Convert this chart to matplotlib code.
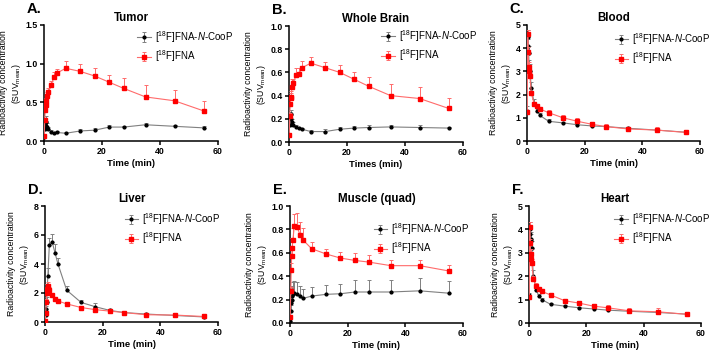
import numpy as np
import matplotlib
matplotlib.use('Agg')
from matplotlib import pyplot as plt

plt.rcParams['font.family'] = ['Liberation Sans', 'DejaVu Sans']
plt.rcParams['mathtext.fontset'] = 'custom'
plt.rcParams['mathtext.rm'] = 'Liberation Sans'
plt.rcParams['mathtext.it'] = 'Liberation Sans:italic'

# frame mid-times (min)
t = [0.08, 0.25, 0.42, 0.58, 0.75, 1, 1.5, 2.5, 3.5, 4.5, 7.5, 12.5, 17.5, 22.5, 27.5, 35, 45, 55]

# Tumor
tum_cp = [0.05, 0.15, 0.22, 0.25, 0.2, 0.18, 0.15, 0.12, 0.10, 0.11, 0.10, 0.13, 0.14, 0.18, 0.18, 0.21, 0.19, 0.17]
tum_cp_sd = [0.02, 0.04, 0.05, 0.07, 0.06, 0.05, 0.03, 0.02, 0.02, 0.02, 0.02, 0.03, 0.03, 0.03, 0.02, 0.02, 0.02, 0.02]
tum_fna = [0.07, 0.27, 0.40, 0.46, 0.52, 0.58, 0.63, 0.73, 0.83, 0.88, 0.94, 0.90, 0.84, 0.76, 0.68, 0.57, 0.52, 0.39]
tum_fna_sd = [0.02, 0.03, 0.04, 0.04, 0.04, 0.05, 0.05, 0.05, 0.06, 0.05, 0.09, 0.09, 0.10, 0.09, 0.14, 0.15, 0.14, 0.13]

# Whole brain
brain_cp = [0.20, 0.15, 0.22, 0.24, 0.20, 0.17, 0.15, 0.13, 0.12, 0.11, 0.09, 0.09, 0.11, 0.12, 0.125, 0.13, 0.125, 0.12]
brain_cp_sd = [0.03, 0.04, 0.04, 0.04, 0.03, 0.03, 0.02, 0.02, 0.01, 0.01, 0.01, 0.02, 0.02, 0.02, 0.02, 0.02, 0.02, 0.01]
brain_fna = [0.06, 0.22, 0.33, 0.38, 0.39, 0.47, 0.51, 0.58, 0.59, 0.64, 0.68, 0.64, 0.60, 0.54, 0.48, 0.40, 0.375, 0.29]
brain_fna_sd = [0.02, 0.03, 0.04, 0.04, 0.05, 0.07, 0.03, 0.06, 0.05, 0.06, 0.05, 0.05, 0.06, 0.06, 0.08, 0.10, 0.10, 0.09]

# Blood
blood_cp = [1.3, 4.5, 4.1, 3.8, 3.2, 3.0, 2.3, 1.6, 1.3, 1.1, 0.85, 0.78, 0.70, 0.65, 0.62, 0.55, 0.47, 0.38]
blood_cp_sd = [0.2, 0.3, 0.3, 0.3, 0.3, 0.3, 0.25, 0.2, 0.15, 0.1, 0.1, 0.06, 0.06, 0.06, 0.06, 0.06, 0.06, 0.05]
blood_fna = [1.25, 4.6, 3.85, 3.2, 3.0, 2.8, 2.05, 1.6, 1.5, 1.38, 1.22, 1.0, 0.85, 0.72, 0.62, 0.52, 0.47, 0.37]
blood_fna_sd = [0.1, 0.2, 0.2, 0.2, 0.2, 0.15, 0.1, 0.1, 0.1, 0.1, 0.1, 0.12, 0.14, 0.1, 0.1, 0.1, 0.12, 0.1]

# Liver
liver_cp = [0.1, 0.5, 0.9, 1.4, 2.2, 3.2, 5.3, 5.5, 4.75, 4.0, 2.2, 1.35, 1.05, 0.8, 0.65, 0.55, 0.45, 0.35]
liver_cp_sd = [0.05, 0.1, 0.2, 0.3, 0.4, 0.5, 0.5, 0.6, 0.6, 0.4, 0.25, 0.15, 0.25, 0.1, 0.1, 0.05, 0.1, 0.05]
liver_fna = [0.1, 0.6, 1.4, 2.0, 2.3, 2.45, 2.2, 1.85, 1.6, 1.45, 1.25, 1.0, 0.85, 0.75, 0.65, 0.5, 0.48, 0.38]
liver_fna_sd = [0.05, 0.1, 0.2, 0.3, 0.3, 0.3, 0.2, 0.15, 0.1, 0.1, 0.08, 0.08, 0.08, 0.08, 0.06, 0.06, 0.06, 0.06]

# Muscle (quad)
musc_cp = [0.02, 0.1, 0.17, 0.2, 0.23, 0.25, 0.255, 0.25, 0.23, 0.21, 0.23, 0.245, 0.25, 0.265, 0.265, 0.265, 0.275, 0.255]
musc_cp_sd = [0.02, 0.05, 0.07, 0.08, 0.09, 0.1, 0.1, 0.1, 0.09, 0.08, 0.08, 0.08, 0.08, 0.1, 0.1, 0.1, 0.11, 0.1]
musc_fna = [0.05, 0.27, 0.45, 0.57, 0.64, 0.71, 0.83, 0.82, 0.75, 0.71, 0.635, 0.59, 0.555, 0.535, 0.52, 0.49, 0.49, 0.445]
musc_fna_sd = [0.02, 0.04, 0.06, 0.08, 0.09, 0.1, 0.1, 0.12, 0.11, 0.1, 0.06, 0.04, 0.05, 0.06, 0.06, 0.05, 0.05, 0.05]

# Heart
heart_cp = [1.2, 4.0, 3.8, 3.6, 3.5, 3.2, 2.0, 1.4, 1.15, 1.0, 0.8, 0.72, 0.65, 0.6, 0.55, 0.5, 0.45, 0.38]
heart_cp_sd = [0.1, 0.3, 0.3, 0.3, 0.3, 0.3, 0.25, 0.15, 0.1, 0.08, 0.05, 0.05, 0.05, 0.05, 0.05, 0.05, 0.05, 0.05]
heart_fna = [1.1, 4.1, 3.4, 2.95, 2.75, 2.55, 1.9, 1.6, 1.45, 1.35, 1.2, 0.95, 0.85, 0.72, 0.65, 0.52, 0.48, 0.37]
heart_fna_sd = [0.1, 0.2, 0.2, 0.2, 0.2, 0.2, 0.1, 0.1, 0.1, 0.1, 0.1, 0.08, 0.1, 0.1, 0.1, 0.1, 0.15, 0.1]

panels = [
    ('A.', 'Tumor', 'Time (min)', 1.5, [0, 0.5, 1.0, 1.5], tum_cp, tum_cp_sd, tum_fna, tum_fna_sd),
    ('B.', 'Whole Brain', 'Times (min)', 1.0, [0, 0.2, 0.4, 0.6, 0.8, 1.0], brain_cp, brain_cp_sd, brain_fna, brain_fna_sd),
    ('C.', 'Blood', 'Time (min)', 5, [0, 1, 2, 3, 4, 5], blood_cp, blood_cp_sd, blood_fna, blood_fna_sd),
    ('D.', 'Liver', 'Time (min)', 8, [0, 2, 4, 6, 8], liver_cp, liver_cp_sd, liver_fna, liver_fna_sd),
    ('E.', 'Muscle (quad)', 'Time (min)', 1.0, [0, 0.2, 0.4, 0.6, 0.8, 1.0], musc_cp, musc_cp_sd, musc_fna, musc_fna_sd),
    ('F.', 'Heart', 'Time (min)', 5, [0, 1, 2, 3, 4, 5], heart_cp, heart_cp_sd, heart_fna, heart_fna_sd),
]

# axes boxes in pixels: left, top, right, bottom
boxes = [(44, 25, 218, 141), (289, 26, 463, 142), (527, 25, 700, 141),
         (45, 206, 218, 322), (290, 206, 463, 323), (529, 206, 701, 323)]
# legend anchors (axes fraction)
leg_pos = [(0.537, 0.966), (0.53, 0.983), (0.506, 0.948),
           (0.46, 0.957), (0.483, 0.872), (0.497, 0.957)]

W, H = 709, 354
fig = plt.figure(figsize=(W / 100, H / 100), dpi=100)

lab_cp = '[$^{18}$F]FNA-$\\mathit{N}$-CooP'
lab_fna = '[$^{18}$F]FNA'

for (letter, title, xlab, ymax, yt, cp, cps, fna, fnas), (l, tp, r, b), lp in zip(panels, boxes, leg_pos):
    ax = fig.add_axes([l / W, 1 - b / H, (r - l) / W, (b - tp) / H])
    ax.errorbar(t, cp, yerr=[np.zeros(len(cps)), cps], color='#808080', lw=0.8,
                ecolor='#808080', elinewidth=0.7, capsize=1.5, capthick=0.7,
                marker='o', ms=2, mfc='black', mec='black', label=lab_cp, zorder=3)
    ax.errorbar(t, fna, yerr=[np.zeros(len(fnas)), fnas], color='#ff6b6b', lw=0.8,
                ecolor='#ff6b6b', elinewidth=0.7, capsize=1.5, capthick=0.7,
                marker='s', ms=2.3, mfc='#ff0000', mec='#ff0000', label=lab_fna, zorder=4)
    ax.set_xlim(0, 60)
    ax.set_ylim(0, ymax)
    ax.set_xticks([0, 20, 40, 60])
    ax.set_yticks(yt)
    ax.yaxis.set_major_formatter(matplotlib.ticker.FormatStrFormatter('%.1f' if ymax <= 1.5 else '%d'))
    for s in ['top', 'right']:
        ax.spines[s].set_visible(False)
    for s in ['left', 'bottom']:
        ax.spines[s].set_linewidth(1.1)
    ax.tick_params(width=1.1, length=3, labelsize=6.3, pad=1.5)
    for lbl in ax.get_xticklabels() + ax.get_yticklabels():
        lbl.set_fontweight('bold')
    ax.set_xlabel(xlab, fontsize=6.8, fontweight='bold', labelpad=2)
    ax.set_ylabel('Radioactivity concentration\n(SUV$_{\\mathrm{mean}}$)', fontsize=6.3, labelpad=2)
    ax.set_title(title, fontsize=8.3, fontweight='bold', pad=3)
    ax.text(-0.1, 1.2, letter, transform=ax.transAxes, fontsize=10.5, fontweight='bold', va='top')
    ax.legend(loc='upper left', bbox_to_anchor=lp, frameon=False, fontsize=7.0,
              handlelength=1.4, handletextpad=0.4, labelspacing=0.35, borderaxespad=0,
              borderpad=0)

fig.savefig('out.png', dpi=100)
